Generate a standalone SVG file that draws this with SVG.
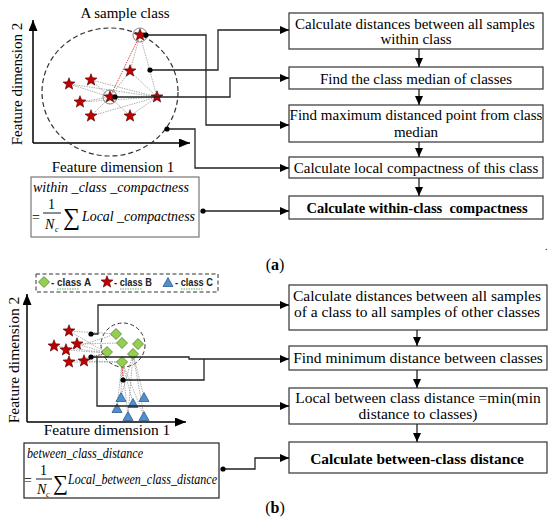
<svg xmlns="http://www.w3.org/2000/svg" xmlns:xlink="http://www.w3.org/1999/xlink" width="550" height="531" viewBox="0 0 550 531">
<style>
.t{font-family:"Liberation Serif","Times New Roman",serif;font-size:15px;fill:#000}
.tb{font-family:"Liberation Serif","Times New Roman",serif;font-size:14.5px;font-weight:bold;fill:#000}
.t2{font-family:"Liberation Serif","Times New Roman",serif;font-size:15.5px;fill:#000}
.tb2{font-family:"Liberation Serif","Times New Roman",serif;font-size:15.4px;font-weight:bold;fill:#000}
.i{font-family:"Liberation Serif","Times New Roman",serif;font-style:italic;font-size:14px;fill:#000}
.box{fill:#fff;stroke:#333;stroke-width:1.2}
.ln{fill:none;stroke:#222;stroke-width:1.3}
.ax{fill:none;stroke:#000;stroke-width:1.5}
.dot{fill:#000}
.dl{fill:none;stroke:#999;stroke-width:0.8;stroke-dasharray:1.5,1}
.rl{fill:none;stroke:#e03030;stroke-width:0.9;stroke-dasharray:1.5,1}
.lg{font-family:"Liberation Sans",Arial,sans-serif;font-size:11px;font-weight:bold;fill:#222}
.sq{stroke:#3a9a3a;stroke-width:0.8;stroke-dasharray:1.5,1}
</style>
<defs>
<marker id="ar" markerWidth="10" markerHeight="8" refX="9" refY="4" orient="auto" markerUnits="userSpaceOnUse"><path d="M0,0 L9,4 L0,8 Z" fill="#000"/></marker>
<marker id="aa" markerWidth="12" markerHeight="10" refX="11" refY="4.5" orient="auto" markerUnits="userSpaceOnUse"><path d="M0,0 L11,4.5 L0,9 Z" fill="#000"/></marker>
<path id="star" d="M0,-6.3 L1.55,-2.13 L5.99,-1.95 L2.51,0.81 L3.7,5.1 L0,2.64 L-3.7,5.1 L-2.51,0.81 L-5.99,-1.95 L-1.55,-2.13 Z" fill="#c00000" stroke="#4a0000" stroke-width="0.6"/>
<path id="dia" d="M0,-5.5 L5.5,0 L0,5.5 L-5.5,0 Z" fill="#92d050" stroke="#4f6f22" stroke-width="0.7"/>
<path id="tri" d="M0,-4.5 L5,4.5 L-5,4.5 Z" fill="#4f8fd0" stroke="#1f4f80" stroke-width="0.7"/>
</defs>

<!-- ================= (a) ================= -->
<g id="plot-a">
<text class="t" x="125" y="18" text-anchor="middle">A sample class</text>
<line class="ax" x1="33" y1="143" x2="33" y2="20" marker-end="url(#aa)"/>
<line class="ax" x1="33" y1="143" x2="190" y2="143" marker-end="url(#aa)"/>
<text class="t" x="0" y="0" transform="translate(22,84) rotate(-90)" text-anchor="middle">Feature dimension 2</text>
<text class="t" x="113" y="172" text-anchor="middle">Feature dimension 1</text>
<ellipse cx="110" cy="92" rx="68" ry="64" fill="none" stroke="#333" stroke-width="1.2" stroke-dasharray="5,3"/>
<g>
<path class="dl" d="M110,97 L69,84 M110,97 L91,80 M110,97 L80,102 M110,97 L91,116 M110,97 L130,116 M110,97 L130,71"/>
<path class="dl" d="M157,97 L69,84 M157,97 L91,80 M157,97 L130,71 M157,97 L91,116 M157,97 L130,116 M157,97 L80,102 M157,97 L140,35 M140,35 L130,71"/>
<path class="rl" d="M110,97 L140,35"/>
</g>
<use xlink:href="#star" x="69" y="84"/>
<use xlink:href="#star" x="91" y="80"/>
<use xlink:href="#star" x="80" y="102"/>
<use xlink:href="#star" x="91" y="116"/>
<use xlink:href="#star" x="130" y="116"/>
<use xlink:href="#star" x="130" y="71"/>
<use xlink:href="#star" x="157" y="97"/>
<use xlink:href="#star" x="110" y="97"/>
<use xlink:href="#star" x="140" y="35"/>
<circle cx="110" cy="97" r="7" fill="none" stroke="#777" stroke-width="0.9"/>
<circle cx="140" cy="35" r="7" fill="none" stroke="#777" stroke-width="0.9"/>
</g>

<g id="formula-a">
<rect x="31" y="177" width="168" height="60" fill="#fff" stroke="#777" stroke-width="1.2"/>
<text class="i" x="33" y="192" textLength="156" lengthAdjust="spacingAndGlyphs">within _class _compactness</text>
<text class="i" x="32" y="222" style="font-style:normal">=</text>
<text class="i" x="48" y="209" style="font-style:normal">1</text>
<line x1="43" y1="213" x2="61" y2="213" stroke="#000" stroke-width="0.9"/>
<text class="i" x="45" y="229">N</text>
<text class="i" x="55" y="232" style="font-size:8px">c</text>
<text class="t" x="63" y="225" style="font-size:24px">∑</text>
<text class="i" x="82" y="221" textLength="113" lengthAdjust="spacingAndGlyphs">Local _compactness</text>
</g>

<g id="a1"><rect class="box" x="289" y="13" width="254" height="36"/>
<text class="t" x="415" y="29" text-anchor="middle">Calculate distances between all samples</text>
<text class="t" x="416" y="44" text-anchor="middle">within class</text></g>
<g id="a2"><rect class="box" x="289" y="67" width="254" height="22"/>
<text class="t" x="416" y="84" text-anchor="middle">Find the class median of classes</text></g>
<g id="a3"><rect class="box" x="289" y="105" width="254" height="37"/>
<text class="t" x="416" y="120" text-anchor="middle">Find maximum distanced point from class</text>
<text class="t" x="416" y="137" text-anchor="middle">median</text></g>
<g id="a4"><rect class="box" x="289" y="157" width="254" height="21"/>
<text class="t" x="416" y="173" text-anchor="middle">Calculate local compactness of this class</text></g>
<g id="a5"><rect class="box" x="289" y="196" width="254" height="23"/>
<text class="tb" x="417" y="213" text-anchor="middle" xml:space="preserve">Calculate within-class  compactness</text></g>

<g id="connectors-a">
<path class="ln" d="M146,35 H206 V125 H289" marker-end="url(#ar)"/>
<path class="ln" d="M150,70 H218 V30 H289" marker-end="url(#ar)"/>
<path class="ln" d="M115,97 H230 V78 H289" marker-end="url(#ar)"/>
<path class="ln" d="M167,129 H195 V168 H289" marker-end="url(#ar)"/>
<path class="ln" d="M203,211 H289" marker-end="url(#ar)"/>
<path class="ln" d="M419,49 V67" marker-end="url(#ar)"/>
<path class="ln" d="M419,89 V105" marker-end="url(#ar)"/>
<path class="ln" d="M419,142 V157" marker-end="url(#ar)"/>
<path class="ln" d="M419,178 V196" marker-end="url(#ar)"/>
<circle class="dot" cx="146" cy="35" r="2.6"/>
<circle class="dot" cx="150" cy="70" r="2.6"/>
<circle class="dot" cx="115" cy="97" r="2.6"/>
<circle class="dot" cx="167" cy="129" r="2.6"/>
<circle class="dot" cx="203" cy="211" r="2.6"/>
</g>
<text class="t" x="545" y="250" style="font-size:10px">.</text>
<text class="t" x="275" y="270" text-anchor="middle" style="font-size:16px">(<tspan font-weight="bold">a</tspan>)</text>

<!-- ================= (b) ================= -->
<g id="legend-b">
<rect x="36" y="274" width="182" height="18" fill="none" stroke="#333" stroke-width="1" stroke-dasharray="4,2.5"/>
<use xlink:href="#dia" x="44" y="282"/>
<text class="lg" x="51" y="286" textLength="40" lengthAdjust="spacingAndGlyphs">- class A</text>
<path class="sq" d="M57,289 h22"/>
<use xlink:href="#star" x="107" y="282"/>
<text class="lg" x="114" y="286" textLength="38" lengthAdjust="spacingAndGlyphs">- class B</text>
<path class="sq" d="M120,289 h22"/>
<use xlink:href="#tri" x="168" y="282"/>
<text class="lg" x="175" y="286" textLength="38" lengthAdjust="spacingAndGlyphs">- class C</text>
<path class="sq" d="M181,289 h22"/>
</g>

<g id="plot-b">
<line class="ax" x1="27" y1="422" x2="27" y2="294" marker-end="url(#aa)"/>
<line class="ax" x1="27" y1="422" x2="186" y2="422" marker-end="url(#aa)"/>
<text class="t2" x="0" y="0" transform="translate(19,360) rotate(-90)" text-anchor="middle">Feature dimension 2</text>
<text class="t2" x="107" y="435" text-anchor="middle">Feature dimension 1</text>
<ellipse cx="123" cy="345" rx="22" ry="22" fill="none" stroke="#333" stroke-width="1" stroke-dasharray="4,2.5"/>
<path class="dl" d="M69,331 L107,353 M54,346 L107,353 M66,350 L107,353 M77,344 L107,353 M69,362 L107,353 M84,361 L107,353 M69,331 L116,334 M77,344 L122,343 M84,361 L122,362 M69,362 L122,362 M66,350 L116,334"/>
<path class="dl" d="M121,397 L122,362 M133,403 L122,362 M144,397 L133,354 M117,408 L122,362 M128,416 L133,354 M144,416 L133,354 M144,416 L122,362 M128,416 L122,362 M121,397 L133,354"/>
<path class="rl" d="M91,357 L107,353 M122,362 L123,380"/>
<use xlink:href="#star" x="69" y="331"/>
<use xlink:href="#star" x="54" y="346"/>
<use xlink:href="#star" x="66" y="350"/>
<use xlink:href="#star" x="77" y="344"/>
<use xlink:href="#star" x="69" y="362"/>
<use xlink:href="#star" x="84" y="361"/>
<use xlink:href="#dia" x="116" y="334"/>
<use xlink:href="#dia" x="122" y="343"/>
<use xlink:href="#dia" x="138" y="344"/>
<use xlink:href="#dia" x="107" y="352"/>
<use xlink:href="#dia" x="133" y="354"/>
<use xlink:href="#dia" x="122" y="362"/>
<use xlink:href="#tri" x="121" y="397"/>
<use xlink:href="#tri" x="133" y="403"/>
<use xlink:href="#tri" x="144" y="397"/>
<use xlink:href="#tri" x="117" y="408"/>
<use xlink:href="#tri" x="128" y="416"/>
<use xlink:href="#tri" x="144" y="416"/>
</g>

<g id="formula-b">
<rect x="24" y="443" width="195" height="55" fill="#fff" stroke="#222" stroke-width="1.2"/>
<text class="i" x="27" y="458" textLength="116" lengthAdjust="spacingAndGlyphs">between_class_distance</text>
<text class="i" x="24" y="485" style="font-style:normal">=</text>
<text class="i" x="40" y="475" style="font-style:normal">1</text>
<line x1="36" y1="479" x2="52" y2="479" stroke="#000" stroke-width="0.9"/>
<text class="i" x="37" y="494">N</text>
<text class="i" x="46" y="497" style="font-size:8px">c</text>
<text class="t" x="53" y="490" style="font-size:21px">∑</text>
<text class="i" x="68" y="484" textLength="149" lengthAdjust="spacingAndGlyphs">Local_between_class_distance</text>
</g>

<g id="b1"><rect class="box" x="289" y="285" width="258" height="45"/>
<text class="t2" x="417" y="301" text-anchor="middle">Calculate distances between all samples</text>
<text class="t2" x="417" y="317" text-anchor="middle">of a class to all samples of other classes</text></g>
<g id="b2"><rect class="box" x="289" y="346" width="258" height="24"/>
<text class="t2" x="418" y="363" text-anchor="middle">Find minimum distance between classes</text></g>
<g id="b3"><rect class="box" x="289" y="388" width="258" height="36"/>
<text class="t2" x="418" y="403" text-anchor="middle">Local between class distance =min(min</text>
<text class="t2" x="418" y="419" text-anchor="middle">distance to classes)</text></g>
<g id="b4"><rect class="box" x="289" y="442" width="258" height="31"/>
<text class="tb2" x="417" y="464" text-anchor="middle">Calculate between-class distance</text></g>

<g id="connectors-b">
<path class="ln" d="M91,334 H98 V305 H289" marker-end="url(#ar)"/>
<path class="ln" d="M91,357 H189 V359 H289" marker-end="url(#ar)"/>
<path class="ln" d="M123,380 H204 V359"/>
<path class="ln" d="M97,357 V406 H289" marker-end="url(#ar)"/>
<path class="ln" d="M223,469 H255 V458 H289" marker-end="url(#ar)"/>
<path class="ln" d="M417,330 V346" marker-end="url(#ar)"/>
<path class="ln" d="M417,370 V388" marker-end="url(#ar)"/>
<path class="ln" d="M417,424 V442" marker-end="url(#ar)"/>
<circle class="dot" cx="91" cy="334" r="2.6"/>
<circle class="dot" cx="91" cy="357" r="2.6"/>
<circle class="dot" cx="123" cy="380" r="2.6"/>
<circle class="dot" cx="223" cy="469" r="2.6"/>
</g>
<text class="t" x="275" y="513" text-anchor="middle" style="font-size:16px">(<tspan font-weight="bold">b</tspan>)</text>
</svg>
